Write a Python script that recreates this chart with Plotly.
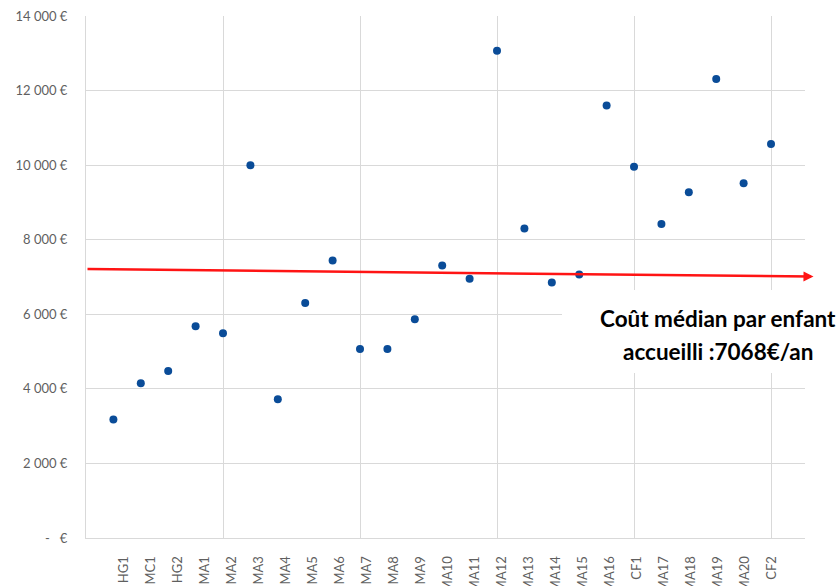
import plotly.graph_objects as go

categories = ["HG1", "MC1", "HG2", "MA1", "MA2", "MA3", "MA4", "MA5", "MA6", "MA7",
              "MA8", "MA9", "MA10", "MA11", "MA12", "MA13", "MA14", "MA15", "MA16",
              "CF1", "MA17", "MA18", "MA19", "MA20", "CF2"]
costs = [3180, 4150, 4480, 5680, 5490, 10000, 3720, 6300, 7445, 5070,
         5070, 5865, 7310, 6955, 13070, 8300, 6850, 7068, 11600,
         9955, 8420, 9275, 12310, 9515, 10570]
positions = list(range(1, len(categories) + 1))

y_ticks = list(range(0, 14001, 2000))
y_ticktext = ["-\u00a0\u00a0\u00a0€" if v == 0 else f"{v:,}".replace(",", " ") + " €" for v in y_ticks]

median_start = 7212
median_end = 7013
label_text = ["Coût médian par enfant", "accueilli :7068€/an"]

GRID = "#d9d9d9"
TICKCOL = "#5f5f5f"
FONT = "Lato"

fig = go.Figure()
# empty trace that only registers the category-label axis
fig.add_trace(go.Scatter(
    x=positions, y=[None] * len(positions), mode="markers",
    xaxis="x", yaxis="y", showlegend=False, hoverinfo="skip",
))
fig.add_trace(go.Scatter(
    x=positions, y=costs, mode="markers",
    marker=dict(size=8, color="#0a4c98"),
    xaxis="x2", yaxis="y", showlegend=False, hoverinfo="y",
))

fig.update_layout(
    width=840, height=586,
    margin=dict(l=86, r=35, t=16, b=48, autoexpand=False),
    paper_bgcolor="white", plot_bgcolor="white",
    font=dict(family=FONT, color=TICKCOL),
    # category label axis
    xaxis=dict(
        range=[-0.380, 26.23], tickmode="array", tickvals=positions, ticktext=categories,
        tickangle=-90, tickfont=dict(family=FONT, size=13, color=TICKCOL),
        showgrid=False, zeroline=False, showline=True, linecolor=GRID, linewidth=1,
        ticks="", ticklabelstandoff=12, automargin=False,
    ),
    # data axis (grid every 5)
    xaxis2=dict(
        overlaying="x", side="bottom", anchor="y",
        range=[0, 26.24], tickmode="linear", tick0=0, dtick=5,
        showgrid=True, gridcolor=GRID, gridwidth=1,
        showticklabels=False, zeroline=False, showline=False, ticks="",
    ),
    yaxis=dict(
        range=[0, 14000], tickmode="array", tickvals=y_ticks, ticktext=y_ticktext,
        tickfont=dict(family=FONT, size=13, color=TICKCOL),
        showgrid=True, gridcolor=GRID, gridwidth=1, zeroline=False,
        showline=True, linecolor=GRID, linewidth=1, ticks="",
        ticklabelstandoff=15, automargin=False,
    ),
)

# white box behind the median label
fig.add_shape(type="rect", xref="paper", yref="paper",
              x0=(562 - 86) / 719, x1=1.2, y0=(538 - 373) / 522, y1=(538 - 290) / 522,
              fillcolor="white", line=dict(width=0), layer="above")

# median arrow
fig.add_annotation(
    x=26.55, y=median_end, xref="x2", yref="y",
    ax=0, ay=median_start, axref="x2", ayref="y",
    text="", showarrow=True, arrowhead=2, arrowsize=0.8, arrowwidth=2.5,
    arrowcolor="#ff1414", standoff=0, startstandoff=0,
)

for i, t in enumerate(label_text):
    fig.add_annotation(
        xref="paper", yref="paper",
        x=(717.5 - 86) / 719, y=(538 - (318.3 + 33.4 * i)) / 522,
        text=f"<b>{t}</b>", showarrow=False,
        font=dict(family=FONT, size=22.5, color="black"),
        xanchor="center", yanchor="middle",
    )

fig.write_html("out.html", config={"displayModeBar": False},
               post_script="document.body.style.margin='0';")
